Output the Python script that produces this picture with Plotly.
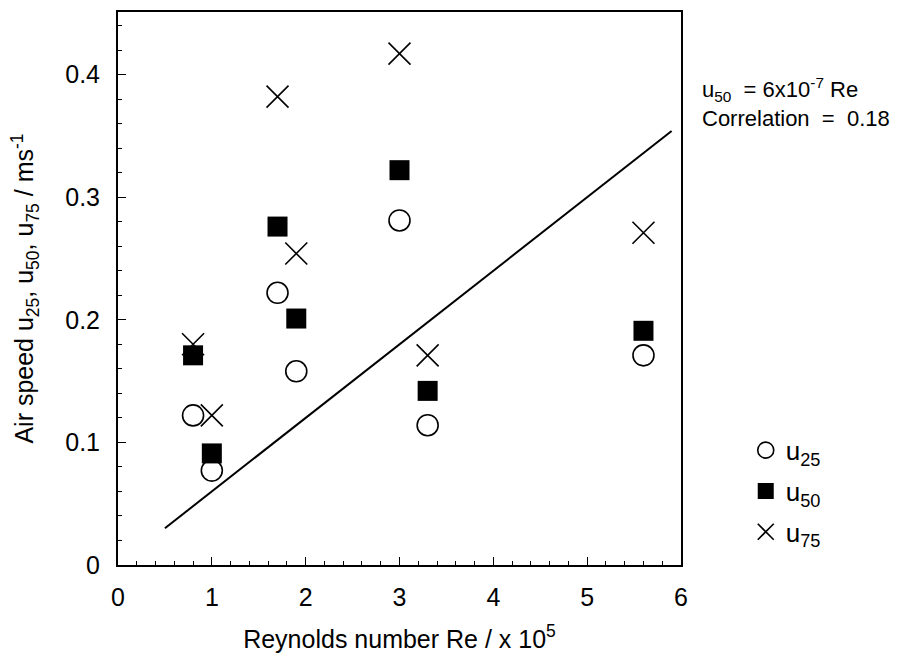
import plotly.graph_objects as go

re_x = [0.8, 1.0, 1.7, 1.9, 3.0, 3.3, 5.6]
u25 = [0.122, 0.077, 0.222, 0.158, 0.281, 0.114, 0.171]
u50 = [0.171, 0.091, 0.276, 0.201, 0.322, 0.142, 0.191]
u75 = [0.180, 0.122, 0.382, 0.254, 0.417, 0.171, 0.271]
fit_x = [0.5, 5.9]
fit_y = [0.03, 0.354]

FONT = "Liberation Sans, Arial, Helvetica, sans-serif"
fig = go.Figure()
fig.add_trace(go.Scatter(x=fit_x, y=fit_y, mode="lines", line=dict(color="black", width=2),
                         showlegend=False, hoverinfo="skip"))
fig.add_trace(go.Scatter(x=re_x, y=u25, mode="markers", name="u<sub>25</sub>", legendgroup="a",
                         marker=dict(symbol="circle-open", size=21, color="black", line=dict(width=1.6))))
fig.add_trace(go.Scatter(x=re_x, y=u50, mode="markers", name="u<sub>50</sub>", legendgroup="b",
                         marker=dict(symbol="square", size=20, color="black")))
fig.add_trace(go.Scatter(x=re_x, y=u75, mode="markers", name="u<sub>75</sub>", legendgroup="c",
                         marker=dict(symbol="x-thin-open", size=22, color="black", line=dict(width=1.6))))

fig.update_layout(
    width=916, height=660,
    margin=dict(l=118, r=235, t=10, b=95),
    paper_bgcolor="white", plot_bgcolor="white",
    font=dict(family=FONT, color="black"),
    legend=dict(x=1.115, y=0.25, xanchor="left", yanchor="top", font=dict(size=26),
                tracegroupgap=4, bgcolor="rgba(0,0,0,0)", itemwidth=30),
    xaxis=dict(range=[0, 6], tickvals=[0, 1, 2, 3, 4, 5, 6], ticks="inside", ticklen=8,
               tickwidth=1, tickcolor="black", showgrid=False, zeroline=False,
               showline=True, linecolor="black", linewidth=2, mirror=True,
               tickfont=dict(size=25), ticklabelstandoff=9,
               minor=dict(dtick=0.2, ticks="inside", ticklen=4, tickcolor="black"),
               title=dict(text="Reynolds number Re / x 10<sup>5</sup>", font=dict(size=25), standoff=20)),
    yaxis=dict(range=[0, 0.451], tickvals=[0, 0.1, 0.2, 0.3, 0.4], ticktext=["0", "0.1", "0.2", "0.3", "0.4"],
               ticks="inside", ticklen=8, tickwidth=1, tickcolor="black", showgrid=False, zeroline=False,
               showline=True, linecolor="black", linewidth=2, mirror=True,
               tickfont=dict(size=25), ticklabelstandoff=11,
               minor=dict(dtick=0.02, ticks="inside", ticklen=4, tickcolor="black"),
               title=dict(text="Air speed u<sub>25</sub>, u<sub>50</sub>, u<sub>75</sub> / ms<sup>-1</sup>",
                          font=dict(size=25), standoff=24)),
)
fig.add_annotation(xref="paper", yref="paper", x=1.033, y=0.836, xanchor="left", yanchor="middle",
                   showarrow=False, align="left", font=dict(size=22),
                   text="u<sub>50</sub>\u00a0 = 6x10<sup>-7</sup> Re<br>Correlation\u00a0 =\u00a0 0.18")
fig.write_html("out.html")
